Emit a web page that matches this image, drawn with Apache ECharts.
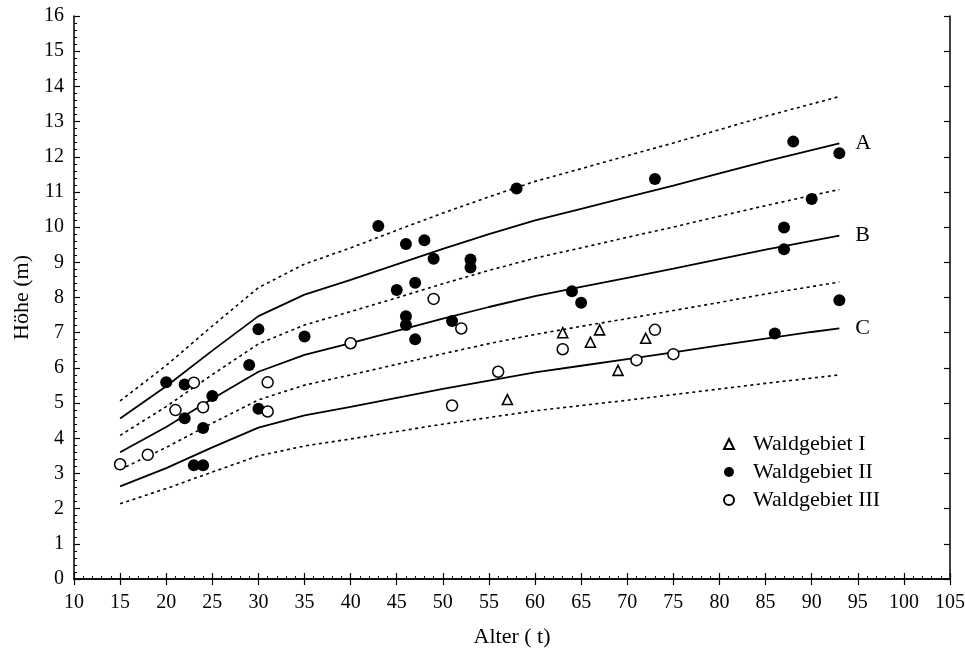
<!DOCTYPE html>
<html>
<head>
<meta charset="utf-8">
<script src="https://cdn.jsdelivr.net/npm/echarts@6/dist/echarts.min.js"></script>
<style>
html,body{margin:0;padding:0;background:#fff;}
#chart{width:965px;height:650px;}
</style>
</head>
<body>
<div id="chart"></div>
<script>
// Ages at which the growth curves are given
const curveAges = [15, 20, 25, 30, 35, 40, 45, 50, 55, 60, 65, 70, 75, 80, 85, 90, 93];
// Curves (height in m)
const upperA   = [5.06, 6.07, 7.19, 8.28, 8.95, 9.41, 9.91, 10.40, 10.86, 11.30, 11.66, 12.03, 12.39, 12.77, 13.15, 13.50, 13.71];
const curveA   = [4.56, 5.48, 6.49, 7.47, 8.08, 8.50, 8.94, 9.38, 9.80, 10.19, 10.52, 10.85, 11.18, 11.53, 11.87, 12.19, 12.38];
const dottedAB = [4.08, 4.90, 5.81, 6.68, 7.22, 7.60, 7.99, 8.39, 8.77, 9.12, 9.41, 9.71, 10.00, 10.31, 10.61, 10.90, 11.07];
const curveB   = [3.60, 4.32, 5.12, 5.89, 6.37, 6.70, 7.05, 7.40, 7.73, 8.04, 8.30, 8.56, 8.82, 9.09, 9.36, 9.61, 9.76];
const dottedBC = [3.11, 3.74, 4.43, 5.09, 5.51, 5.80, 6.10, 6.40, 6.69, 6.95, 7.18, 7.40, 7.63, 7.86, 8.10, 8.31, 8.44];
const curveC   = [2.63, 3.15, 3.74, 4.30, 4.65, 4.89, 5.15, 5.40, 5.64, 5.87, 6.06, 6.25, 6.44, 6.64, 6.83, 7.02, 7.12];
const lowerC   = [2.14, 2.57, 3.04, 3.50, 3.78, 3.98, 4.19, 4.40, 4.59, 4.78, 4.93, 5.08, 5.24, 5.40, 5.56, 5.71, 5.80];

// Observations [age, height]
const wald1 = [[57,5.10],[63,7.00],[66,6.73],[67,7.08],[69,5.93],[72,6.84]];
const wald2 = [[20,5.59],[22,5.53],[22,4.57],[23,3.23],[24,3.23],[24,4.29],[25,5.20],[29,6.08],[30,7.10],[30,4.84],
  [35,6.89],[43,10.03],[45,8.21],[46,9.52],[46,7.47],[46,7.22],[47,8.42],[47,6.81],[48,9.63],[49,9.10],
  [51,7.33],[53,9.08],[53,8.85],[58,11.10],[64,8.18],[65,7.85],[73,11.37],[86,6.98],[87,9.99],[87,9.37],
  [88,12.43],[90,10.80],[93,12.10],[93,7.92]];
const wald3 = [[15,3.26],[18,3.53],[21,4.80],[23,5.58],[24,4.88],[31,5.59],[31,4.76],[40,6.70],[49,7.96],
  [51,4.93],[52,7.12],[56,5.89],[63,6.53],[71,6.22],[73,7.08],[75,6.39]];

const xTicks = {min: 10, max: 105, interval: 5};
const yTicks = {min: 0, max: 16, interval: 1};

const FONT = '"Liberation Serif", "Times New Roman", serif';
const toPts = arr => curveAges.map((a, i) => [a, arr[i]]);

function lineSeries(arr, dotted, label) {
  const s = {
    type: 'line', data: toPts(arr), symbol: 'none', silent: true,
    lineStyle: {color: '#000', width: dotted ? 1.6 : 1.8, type: dotted ? [3, 3.5] : 'solid'},
    z: 2
  };
  if (label) {
    s.endLabel = {show: true, formatter: label, distance: 16, color: '#000', fontSize: 22, fontFamily: FONT};
  }
  return s;
}

const chart = echarts.init(document.getElementById('chart'), null, {renderer: 'canvas'});
const axisCommon = {
  axisLine: {show: true, lineStyle: {color: '#000', width: 1.5}},
  splitLine: {show: false},
};
chart.setOption({
  animation: false,
  backgroundColor: '#fff',
  grid: {left: 74, right: 15, top: 16, bottom: 71, containLabel: false, outerBoundsMode: 'none'},
  xAxis: [
    Object.assign({
      type: 'value', position: 'bottom', min: xTicks.min, max: xTicks.max, interval: xTicks.interval,
      axisTick: {show: true, inside: true, length: 6, lineStyle: {color: '#000', width: 1.2}},
      minorTick: {show: true, splitNumber: 5, length: 3, lineStyle: {color: '#000', width: 1}},
      axisLabel: {color: '#000', fontSize: 20, fontFamily: FONT, margin: 14},
      name: 'Alter ( t)', nameLocation: 'middle', nameGap: 47,
      nameTextStyle: {color: '#000', fontSize: 22, fontFamily: FONT}
    }, axisCommon),
    Object.assign({
      type: 'value', position: 'top', min: xTicks.min, max: xTicks.max, interval: xTicks.interval,
      axisTick: {show: true, inside: true, length: 6, lineStyle: {color: '#000', width: 1.2}},
      axisLabel: {show: false}
    }, axisCommon)
  ],
  yAxis: [
    Object.assign({
      type: 'value', position: 'left', min: yTicks.min, max: yTicks.max, interval: yTicks.interval,
      axisTick: {show: true, inside: true, length: 6, lineStyle: {color: '#000', width: 1.2}},
      minorTick: {show: true, splitNumber: 5, length: 3, lineStyle: {color: '#000', width: 1}},
      axisLabel: {color: '#000', fontSize: 20, fontFamily: FONT, margin: 10},
      name: 'Höhe (m)', nameLocation: 'middle', nameGap: 41, nameRotate: 90,
      nameTextStyle: {color: '#000', fontSize: 22, fontFamily: FONT}
    }, axisCommon),
    Object.assign({
      type: 'value', position: 'right', min: yTicks.min, max: yTicks.max, interval: yTicks.interval,
      axisTick: {show: true, inside: true, length: 6, lineStyle: {color: '#000', width: 1.2}},
      axisLabel: {show: false}
    }, axisCommon)
  ],
  legend: {
    orient: 'vertical', left: 718, top: 428, itemWidth: 10, itemHeight: 10, itemGap: 6,
    data: ['Waldgebiet I', 'Waldgebiet II', 'Waldgebiet III'],
    textStyle: {color: '#000', fontSize: 22, fontFamily: FONT, padding: [0, 0, 0, 14]},
    selectedMode: false
  },
  series: [
    lineSeries(upperA, true),
    lineSeries(curveA, false, 'A'),
    lineSeries(dottedAB, true),
    lineSeries(curveB, false, 'B'),
    lineSeries(dottedBC, true),
    lineSeries(curveC, false, 'C'),
    lineSeries(lowerC, true),
    {name: 'Waldgebiet I', type: 'scatter', data: wald1, symbol: 'triangle', symbolSize: 10, z: 5,
     itemStyle: {color: '#fff', borderColor: '#000', borderWidth: 1.6, opacity: 1}},
    {name: 'Waldgebiet II', type: 'scatter', data: wald2, symbol: 'circle', symbolSize: 12, z: 5,
     itemStyle: {color: '#000', borderColor: '#000', borderWidth: 0, opacity: 1}},
    {name: 'Waldgebiet III', type: 'scatter', data: wald3, symbol: 'circle', symbolSize: 11, z: 5,
     itemStyle: {color: '#fff', borderColor: '#000', borderWidth: 1.5, opacity: 1}}
  ]
});
</script>
</body>
</html>
